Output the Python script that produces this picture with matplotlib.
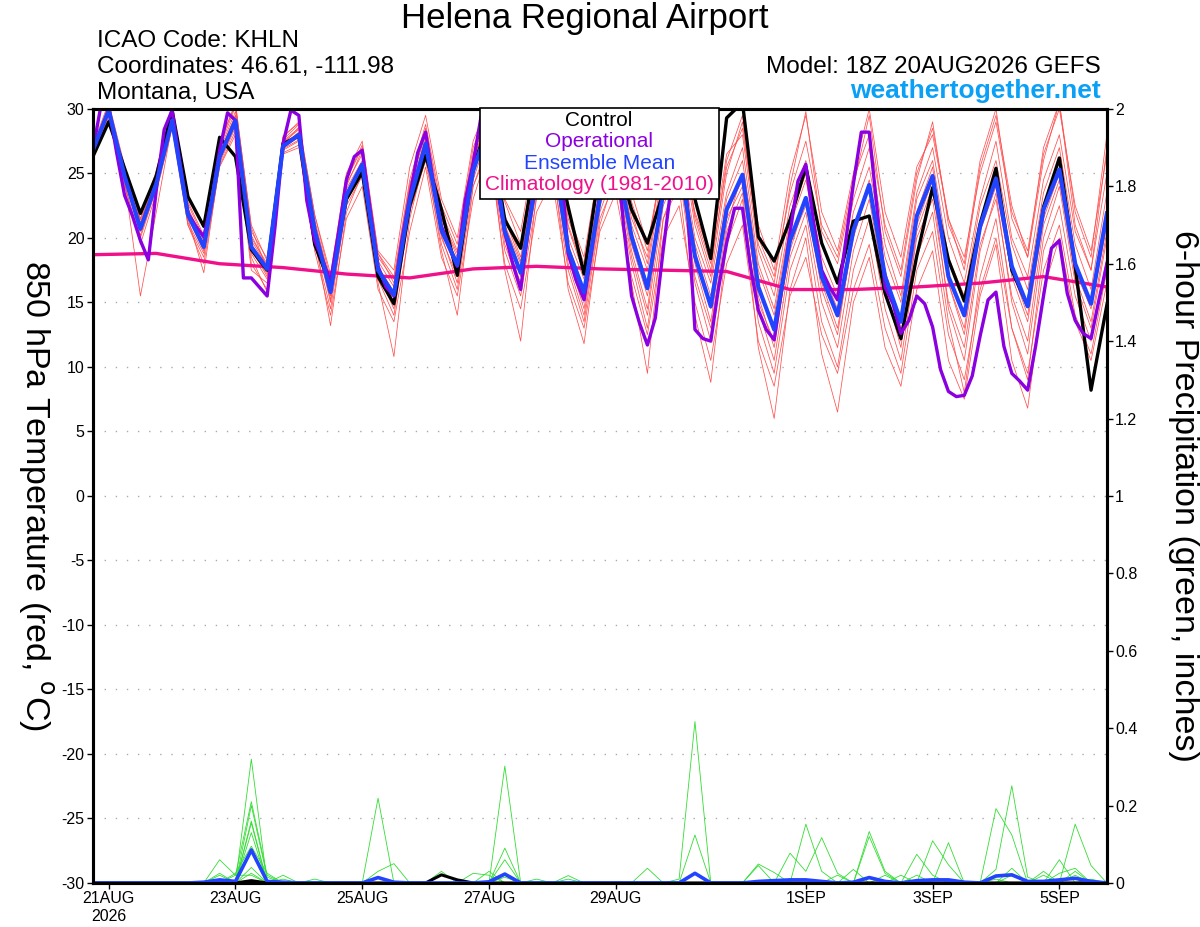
import numpy as np
import matplotlib
matplotlib.use("Agg")
import matplotlib.pyplot as plt
from matplotlib.patches import Rectangle

plt.rcParams['font.family'] = ['Liberation Sans', 'DejaVu Sans']
plt.rcParams['axes.unicode_minus'] = False

# forecast hours from 20AUG2026 18Z
hours6 = np.arange(65) * 6
hours3 = np.arange(129) * 3
clim_hours = np.arange(17) * 24

tick_hours = [6, 54, 102, 150, 198, 270, 318, 366]
tick_labels = ['21AUG\n2026', '23AUG', '25AUG', '27AUG', '29AUG', '1SEP', '3SEP', '5SEP']

legend_labels = ['Control', 'Operational', 'Ensemble Mean', 'Climatology (1981-2010)']

control_t = [26.3, 29.0, 25.4, 21.9, 24.8, 29.9, 23.2, 20.9, 27.8, 26.3, 19.1, 17.5, 27.3, 27.9, 19.5, 16.3,
             23.0, 25.1, 17.0, 14.9, 22.5, 26.4, 22.2, 17.1, 25.5, 29.0, 21.4, 19.2, 26.5, 28.0, 22.4, 17.2,
             25.5, 26.5, 22.2, 19.6, 23.5, 26.5, 23.0, 18.4, 29.3, 30.5, 20.1, 18.2, 21.4, 25.5, 19.6, 16.5,
             21.3, 21.7, 15.7, 12.2, 18.6, 23.9, 18.3, 15.1, 21.1, 25.4, 17.5, 14.7, 22.4, 26.2, 17.8, 8.2, 14.8]

mean_t = [26.8, 29.9, 24.8, 20.7, 24.2, 29.1, 21.8, 19.3, 26.3, 29.1, 19.3, 17.6, 27.1, 28.0, 20.6, 15.8,
          23.3, 25.7, 17.5, 15.6, 22.9, 27.3, 20.6, 17.9, 25.2, 28.8, 20.5, 17.3, 24.5, 27.0, 19.1, 15.8,
          23.0, 26.5, 20.1, 16.1, 23.5, 26.0, 18.6, 14.7, 22.2, 24.9, 16.2, 12.9, 19.8, 23.1, 17.0, 14.0,
          20.6, 24.1, 17.0, 13.5, 21.7, 24.8, 17.0, 14.0, 20.9, 24.6, 17.8, 14.7, 22.2, 25.3, 18.0, 14.9, 21.9]

# operational run is 3-hourly
oper_t = [26.8, 30.2, 30.2, 26.6, 23.3, 21.7, 19.8, 18.3, 23.7, 28.4, 29.9, 25.8, 21.9, 20.9, 20.1, 22.9,
          26.8, 29.7, 29.1, 16.9, 16.9, 16.2, 15.5, 20.9, 27.3, 29.9, 29.5, 22.9, 19.8, 18.3, 16.6, 20.4,
          24.5, 26.3, 26.8, 22.2, 17.8, 16.2, 15.5, 19.8, 23.2, 26.6, 28.2, 24.2, 20.9, 19.3, 17.8, 22.9,
          25.8, 29.4, 28.5, 24.0, 20.4, 18.0, 16.0, 20.9, 25.5, 27.0, 28.0, 26.0, 18.8, 16.7, 15.2, 19.1,
          23.5, 27.0, 28.0, 20.9, 15.5, 13.4, 11.7, 13.8, 19.1, 24.0, 25.5, 22.9, 12.9, 12.2, 12.0, 16.2,
          19.6, 22.3, 22.3, 17.8, 14.4, 12.9, 12.1, 16.2, 20.4, 24.4, 25.7, 21.1, 17.5, 16.2, 15.2, 19.6,
          24.2, 28.2, 28.2, 22.2, 16.2, 14.9, 12.6, 13.6, 15.5, 14.9, 13.1, 9.8, 8.1, 7.7, 7.8, 9.3,
          12.4, 15.2, 15.8, 11.6, 9.5, 8.9, 8.2, 11.6, 15.5, 19.2, 19.8, 15.7, 13.6, 12.6, 12.2, 15.2, 18.0]

clim_t = [18.7, 18.8, 18.0, 17.7, 17.2, 16.9, 17.6, 17.8, 17.6, 17.5, 17.4, 16.0, 16.0, 16.2, 16.5, 17.0, 16.2]

members_t = [
    [27.2, 30.5, 25.6, 21.8, 25.0, 29.8, 22.6, 20.0, 27.0, 30.2, 20.5, 18.4, 27.8, 29.0, 21.8, 16.8,
     24.5, 27.0, 18.8, 17.0, 24.5, 28.8, 22.5, 19.5, 27.0, 30.0, 22.8, 19.5, 26.8, 29.0, 21.5, 18.0,
     25.5, 28.5, 22.8, 19.0, 26.5, 29.0, 21.8, 18.0, 25.5, 28.5, 20.0, 17.0, 23.5, 27.5, 21.0, 18.5,
     24.5, 28.0, 21.0, 17.5, 25.0, 28.5, 21.5, 18.5, 25.0, 29.0, 22.0, 19.0, 26.5, 30.0, 22.5, 19.0, 26.5],
    [26.5, 29.2, 24.2, 19.5, 23.5, 28.5, 21.0, 18.0, 25.5, 28.0, 17.5, 16.5, 26.5, 27.0, 19.0, 14.0,
     21.5, 24.0, 16.0, 13.5, 20.5, 25.5, 18.5, 15.5, 23.0, 27.0, 18.0, 14.5, 22.0, 24.5, 16.5, 13.0,
     20.5, 23.5, 17.0, 12.5, 20.0, 22.5, 15.0, 10.5, 18.0, 21.0, 12.0, 8.5, 15.5, 18.5, 12.5, 9.5,
     16.0, 19.5, 13.0, 9.5, 17.5, 20.5, 12.5, 9.0, 16.0, 20.0, 13.0, 9.5, 17.5, 21.0, 14.0, 11.0, 17.5],
    [26.9, 30.0, 25.0, 21.0, 24.5, 29.4, 22.0, 19.6, 26.6, 29.5, 19.8, 17.8, 27.4, 28.4, 21.0, 16.0,
     23.8, 26.0, 17.8, 15.8, 23.5, 27.8, 21.0, 18.2, 25.8, 29.2, 21.0, 17.5, 25.0, 27.5, 19.5, 16.0,
     23.5, 27.0, 20.5, 16.5, 24.0, 26.5, 19.5, 15.5, 23.0, 26.0, 17.5, 14.0, 21.0, 24.5, 18.5, 15.5,
     22.0, 25.5, 18.5, 15.0, 23.0, 26.0, 18.5, 15.5, 22.5, 26.0, 19.5, 16.0, 23.5, 27.0, 19.5, 16.0, 23.5],
    [26.6, 29.6, 24.5, 15.5, 22.0, 28.8, 21.5, 17.3, 25.8, 28.6, 18.5, 15.8, 26.8, 27.5, 20.0, 13.2,
     22.0, 25.0, 16.5, 10.8, 21.5, 26.5, 19.0, 14.0, 24.0, 27.5, 17.5, 12.0, 23.5, 26.0, 16.0, 11.8,
     21.0, 25.0, 16.5, 9.5, 21.5, 24.0, 14.0, 8.8, 19.5, 23.0, 11.5, 6.0, 16.0, 20.0, 11.0, 6.5,
     15.0, 18.5, 11.5, 8.5, 16.0, 19.0, 10.5, 7.5, 15.5, 19.5, 10.5, 6.8, 16.0, 20.0, 13.5, 10.5, 16.5],
    [27.0, 30.3, 25.2, 21.2, 24.8, 29.6, 22.3, 19.8, 27.2, 30.5, 20.8, 17.5, 27.6, 28.8, 21.4, 16.5,
     24.0, 26.8, 18.5, 16.8, 24.0, 28.5, 22.0, 19.0, 26.5, 29.5, 21.8, 18.5, 26.0, 28.5, 20.8, 17.2,
     24.8, 28.0, 22.0, 18.0, 25.5, 28.5, 21.0, 17.0, 25.0, 29.0, 19.5, 16.5, 24.0, 29.8, 20.5, 18.0,
     24.0, 29.5, 20.5, 17.0, 24.5, 29.0, 21.0, 18.0, 26.0, 30.0, 21.5, 18.5, 26.0, 30.5, 21.0, 17.5, 27.0],
    [26.7, 29.8, 24.6, 20.2, 24.0, 28.9, 21.2, 18.8, 26.0, 29.0, 19.0, 17.2, 27.0, 27.8, 20.2, 15.0,
     23.0, 25.5, 17.0, 14.8, 22.8, 27.0, 20.0, 17.0, 25.0, 28.8, 20.0, 16.5, 24.0, 27.0, 18.5, 14.5,
     22.5, 26.0, 19.0, 14.5, 23.5, 26.5, 18.0, 13.5, 22.0, 24.5, 15.5, 11.5, 19.5, 22.5, 16.5, 13.0,
     20.0, 24.0, 17.0, 12.5, 21.0, 24.5, 16.5, 12.5, 20.5, 24.0, 17.0, 13.5, 21.5, 25.0, 17.5, 14.5, 21.0],
    [26.4, 29.4, 24.0, 20.0, 23.8, 28.6, 21.0, 18.5, 25.6, 28.3, 18.0, 16.0, 26.6, 27.2, 19.5, 14.5,
     22.5, 24.8, 16.8, 14.0, 22.0, 26.0, 19.5, 16.0, 24.0, 27.0, 19.0, 15.5, 23.0, 25.5, 17.5, 13.5,
     21.5, 24.5, 18.0, 13.0, 21.5, 25.0, 16.5, 12.0, 20.5, 23.5, 13.5, 9.5, 17.5, 21.0, 13.5, 10.0,
     17.5, 21.5, 14.5, 10.5, 18.5, 22.0, 13.5, 8.0, 17.0, 21.5, 13.0, 9.0, 19.0, 22.5, 15.5, 12.0, 18.5],
    [27.1, 30.1, 25.4, 21.5, 25.2, 30.0, 22.8, 20.2, 27.5, 30.3, 21.0, 18.2, 27.9, 28.9, 21.8, 17.2,
     25.0, 27.5, 19.0, 17.5, 25.5, 29.5, 23.0, 20.0, 27.5, 30.5, 23.0, 20.5, 27.5, 29.5, 22.0, 18.5,
     26.0, 28.8, 23.5, 19.5, 26.0, 28.0, 22.0, 18.5, 26.5, 28.0, 19.0, 15.5, 22.5, 26.0, 19.5, 16.5,
     23.0, 27.0, 19.5, 15.5, 23.5, 27.0, 20.0, 16.5, 23.0, 27.5, 20.0, 17.0, 24.5, 28.0, 20.5, 17.5, 25.0],
    [26.8, 29.9, 24.9, 20.5, 24.2, 29.0, 21.6, 19.0, 26.2, 29.2, 19.2, 17.0, 27.2, 28.2, 20.5, 15.5,
     23.2, 25.8, 17.5, 15.0, 22.5, 27.5, 20.5, 17.5, 25.5, 29.0, 20.5, 17.0, 24.5, 27.0, 19.0, 15.5,
     23.0, 26.5, 19.5, 15.5, 23.0, 26.0, 18.5, 14.5, 21.5, 24.0, 15.0, 12.0, 19.0, 23.0, 16.0, 12.5,
     20.5, 24.5, 17.5, 13.5, 22.0, 25.5, 16.5, 13.0, 21.0, 25.0, 17.5, 14.0, 22.0, 25.5, 18.0, 15.0, 22.0],
    [27.0, 30.2, 25.3, 21.4, 24.6, 29.5, 22.0, 19.5, 26.8, 29.8, 20.0, 18.0, 27.5, 28.5, 21.2, 16.2,
     24.2, 26.5, 18.2, 16.2, 23.8, 28.2, 21.5, 18.8, 26.2, 29.3, 21.5, 18.2, 25.5, 28.0, 20.0, 16.8,
     24.0, 27.5, 21.0, 17.5, 25.0, 27.5, 20.0, 16.5, 23.5, 27.0, 18.0, 14.5, 21.5, 25.0, 17.5, 14.5,
     21.0, 24.0, 16.0, 12.0, 20.0, 23.0, 15.0, 11.5, 19.5, 23.0, 15.5, 12.0, 21.0, 24.5, 17.0, 13.5, 20.5],
    [26.6, 29.5, 24.4, 20.8, 24.0, 29.2, 21.8, 19.2, 26.0, 28.8, 18.8, 16.8, 26.9, 27.6, 20.6, 15.2,
     22.8, 25.2, 17.2, 14.5, 22.2, 26.8, 20.2, 16.5, 24.5, 28.2, 19.5, 16.0, 23.8, 26.5, 18.0, 14.0,
     22.0, 25.5, 18.5, 14.0, 22.5, 25.5, 17.0, 13.0, 21.0, 25.0, 14.5, 10.5, 18.5, 22.0, 15.0, 11.5,
     19.0, 23.0, 16.0, 11.5, 20.5, 24.0, 14.5, 10.5, 19.0, 23.5, 15.0, 11.0, 20.0, 24.0, 16.5, 13.0, 20.0],
    [27.0, 30.0, 25.0, 21.0, 24.5, 29.3, 22.2, 19.8, 26.5, 29.5, 20.2, 17.8, 27.2, 28.6, 21.0, 16.5,
     24.5, 27.2, 18.8, 16.5, 24.2, 28.0, 21.5, 18.5, 26.0, 29.5, 21.0, 18.0, 26.5, 29.0, 21.0, 17.5,
     25.0, 28.0, 21.5, 18.5, 26.5, 29.5, 21.5, 17.5, 26.0, 29.5, 21.0, 17.5, 25.0, 29.5, 22.0, 19.0,
     25.0, 30.0, 22.0, 18.5, 25.5, 28.0, 21.5, 17.5, 25.5, 29.5, 22.5, 18.5, 27.0, 30.5, 22.0, 18.5, 28.0],
]

# 6-hour precipitation (inches)
members_p = [
    [0, 0, 0, 0, 0, 0, 0, 0, 0, 0, .32, 0, 0, 0, 0, 0, 0, 0, 0, 0, 0, 0, 0, 0, 0, 0, .02, 0, 0, 0, 0, 0,
     0, 0, 0, 0, 0, .01, .417, 0, 0, 0, 0, 0, 0, 0, 0, 0, 0, 0, 0, 0, 0, 0, 0, 0, 0, .035, .251, .015, 0, 0, 0, 0, 0],
    [0, 0, 0, 0, 0, 0, 0, 0, .06, .02, .21, .02, 0, 0, 0, 0, 0, 0, .219, 0, 0, 0, 0, 0, 0, 0, 0, 0, 0, 0, 0, 0,
     0, 0, 0, 0, 0, 0, 0, 0, 0, 0, 0, 0, 0, 0, 0, 0, 0, .133, .03, 0, 0, 0, 0, 0, 0, 0, 0, 0, 0, 0, .152, .045, 0],
    [0, 0, 0, 0, 0, 0, 0, 0, 0, 0, .20, .015, 0, 0, 0, 0, 0, 0, 0, 0, 0, 0, 0, 0, 0, 0, .302, 0, 0, 0, 0, 0,
     0, 0, 0, 0, 0, 0, 0, 0, 0, 0, 0, 0, 0, .152, .03, 0, 0, 0, 0, 0, 0, 0, 0, 0, 0, .192, .124, 0, 0, 0, 0, 0, 0],
    [0, 0, 0, 0, 0, 0, 0, 0, 0, 0, .16, 0, .02, 0, 0, 0, 0, 0, .03, .05, 0, 0, 0, 0, 0, 0, 0, 0, 0, 0, 0, 0,
     0, 0, 0, 0, 0, 0, 0, 0, 0, 0, 0, 0, 0, 0, 0, 0, 0, 0, 0, 0, 0, .109, .047, 0, 0, 0, 0, 0, 0, 0, 0, 0, 0],
    [0, 0, 0, 0, 0, 0, 0, 0, 0, 0, .155, 0, 0, 0, 0, 0, 0, 0, 0, 0, 0, 0, 0, 0, 0, 0, 0, 0, 0, 0, 0, 0,
     0, 0, 0, 0, 0, 0, .124, 0, 0, 0, 0, 0, .077, .03, .117, .025, 0, 0, 0, 0, 0, 0, 0, 0, 0, 0, 0, 0, 0, 0, 0, 0, 0],
    [0, 0, 0, 0, 0, 0, 0, 0, 0, 0, .13, 0, 0, 0, 0, 0, 0, 0, 0, 0, 0, 0, 0, 0, 0, 0, .09, 0, 0, 0, 0, 0,
     0, 0, 0, 0, 0, 0, 0, 0, 0, 0, 0, 0, 0, 0, 0, 0, 0, .12, .025, 0, .02, 0, 0, 0, 0, 0, .038, 0, 0, .025, .038, 0, 0],
    [0, 0, 0, 0, 0, 0, 0, 0, 0, .025, .095, .025, 0, 0, .01, 0, 0, 0, 0, 0, 0, 0, 0, 0, 0, 0, 0, 0, 0, 0, 0, 0,
     0, 0, 0, 0, 0, 0, 0, 0, 0, 0, .049, .027, 0, 0, 0, 0, 0, 0, 0, 0, 0, 0, .104, 0, 0, 0, 0, 0, 0, 0, 0, 0, 0],
    [0, 0, 0, 0, 0, 0, 0, 0, 0, 0, .09, 0, 0, 0, 0, 0, 0, 0, 0, 0, 0, 0, .03, 0, 0, 0, .06, 0, 0, 0, 0, 0,
     0, 0, 0, .038, 0, 0, 0, 0, 0, 0, 0, 0, 0, 0, 0, 0, 0, 0, 0, 0, .074, .02, 0, 0, 0, 0, 0, 0, .03, 0, .02, 0, 0],
    [0, 0, 0, 0, 0, 0, 0, 0, 0, 0, .04, 0, 0, 0, 0, 0, 0, 0, 0, 0, 0, 0, 0, 0, .025, .02, 0, 0, 0, 0, .019, 0,
     0, 0, 0, 0, 0, 0, 0, 0, 0, 0, .045, 0, 0, 0, 0, 0, .035, 0, 0, 0, 0, 0, 0, 0, 0, .01, 0, 0, 0, .06, 0, 0, 0],
    [0, 0, 0, 0, 0, 0, 0, 0, .025, 0, .025, 0, .01, 0, 0, 0, 0, 0, 0, 0, 0, 0, 0, 0, 0, 0, .015, 0, 0, 0, 0, 0,
     0, 0, 0, 0, 0, 0, 0, 0, 0, 0, 0, 0, 0, 0, 0, 0, 0, 0, 0, .02, 0, 0, 0, 0, 0, 0, .02, 0, 0, 0, .03, 0, 0],
    [0, 0, 0, 0, 0, 0, 0, 0, 0, .02, .02, 0, 0, 0, 0, 0, 0, 0, 0, 0, 0, 0, 0, 0, 0, .03, 0, 0, 0, 0, .01, 0,
     0, 0, 0, 0, 0, 0, 0, 0, 0, 0, 0, 0, 0, 0, 0, 0, 0, 0, .02, 0, 0, 0, 0, 0, 0, 0, 0, 0, .02, 0, 0, 0, 0],
    [0, 0, 0, 0, 0, 0, 0, 0, .02, 0, 0, 0, 0, 0, 0, 0, 0, 0, 0, 0, 0, 0, 0, 0, 0, 0, 0, 0, .01, 0, 0, 0,
     0, 0, 0, 0, 0, 0, 0, 0, 0, 0, 0, 0, 0, 0, 0, .02, 0, 0, 0, 0, 0, 0, 0, 0, 0, 0, 0, 0, 0, 0, 0, .01, 0],
]

mean_p = [0, 0, 0, 0, 0, 0, 0, .002, .008, .004, .085, .004, .002, 0, 0, 0, 0, 0, .014, .002, 0, 0, 0, 0, 0, .003, .023, 0, 0, 0, 0, 0,
          0, 0, 0, 0, 0, 0, .025, 0, 0, 0, .004, .006, .008, .008, .004, 0, .002, .014, .004, 0, .006, .008, .008, .002, 0, .018, .021, .004, .004, .008, .012, .004, 0]

control_p = [0, 0, 0, 0, 0, 0, 0, 0, 0, 0, .006, 0, 0, 0, 0, 0, 0, 0, 0, 0, 0, 0, .021, .008, 0, 0, 0, 0, 0, 0, 0, 0,
             0, 0, 0, 0, 0, 0, 0, 0, 0, 0, 0, 0, 0, 0, 0, 0, 0, 0, 0, 0, 0, 0, 0, 0, 0, 0, 0, 0, 0, 0, 0, 0, 0]

c_control = 'black'
c_oper = '#8a00e0'
c_mean = '#2244ff'
c_clim = '#f0108a'
c_member = '#ff5050'
c_green = '#33dd33'

fig = plt.figure(figsize=(12, 9.27), dpi=100)
ax = fig.add_axes([0.0774, 0.0475, 0.845, 0.835])
ax2 = ax.twinx()

for m in members_t:
    ax.plot(hours6, m, color=c_member, lw=0.55, zorder=2)
ax.plot(clim_hours, clim_t, color=c_clim, lw=2.4, zorder=3)
ax.plot(hours6, control_t, color=c_control, lw=2.4, zorder=4)
ax.plot(hours3, oper_t, color=c_oper, lw=2.4, zorder=5)
ax.plot(hours6, mean_t, color=c_mean, lw=3.0, zorder=6)

for m in members_p:
    ax2.plot(hours6, m, color=c_green, lw=0.6)
ax2.plot(hours6, control_p, color=c_control, lw=2.2)
ax2.plot(hours6, mean_p, color=c_mean, lw=2.6)

ax.set_xlim(0, 384)
ax.set_ylim(-30, 30)
ax2.set_ylim(0, 2)
ax.set_yticks(np.arange(-30, 31, 5))
ax2.set_yticks(np.arange(0, 2.01, 0.2))
ax2.set_yticklabels(['%g' % round(v, 1) for v in np.arange(0, 2.01, 0.2)])
ax.set_xticks(tick_hours)
ax.set_xticklabels(tick_labels)

for a in (ax, ax2):
    for s in a.spines.values():
        s.set_linewidth(2.2)
    a.tick_params(labelsize=11.5, width=1.0, length=4, pad=2)

for y in range(-25, 26, 5):
    ax.axhline(y, color='#aaaaaa', lw=1.0, ls=(0, (1, 7)), zorder=1)

ax.set_ylabel('850 hPa Temperature (red, $^{\\rm o}$C)', fontsize=24.5, rotation=270, labelpad=33, va='bottom')
ax2.set_ylabel('6-hour Precipitation (green, inches)', fontsize=24.5, rotation=270, labelpad=22, va='bottom')

# legend: white box with coloured, centred labels
ax2.add_patch(Rectangle((0.3815, 0.8837), 0.2356, 0.1176, transform=ax2.transAxes, clip_on=False,
                        facecolor='white', edgecolor='black', lw=1.2, zorder=20))
for k, (lab, col) in enumerate(zip(legend_labels, [c_control, c_oper, c_mean, c_clim])):
    ax2.text(0.4993, 0.9855 - k * 0.0278, lab, color=col, fontsize=15, ha='center', va='center',
             transform=ax2.transAxes, zorder=21)

fig.text(0.4875, 0.980, 'Helena Regional Airport', ha='center', va='center', fontsize=25)
fig.text(0.081, 0.956, 'ICAO Code: KHLN', ha='left', va='center', fontsize=17.5)
fig.text(0.081, 0.928, 'Coordinates: 46.61, -111.98', ha='left', va='center', fontsize=17.5)
fig.text(0.081, 0.900, 'Montana, USA', ha='left', va='center', fontsize=17.5)
fig.text(0.9175, 0.928, 'Model: 18Z 20AUG2026 GEFS', ha='right', va='center', fontsize=17.5)
fig.text(0.9175, 0.902, 'weathertogether.net', ha='right', va='center', fontsize=19,
         fontweight='bold', color='#0aa0f5')

fig.savefig('out.png', dpi=100)
